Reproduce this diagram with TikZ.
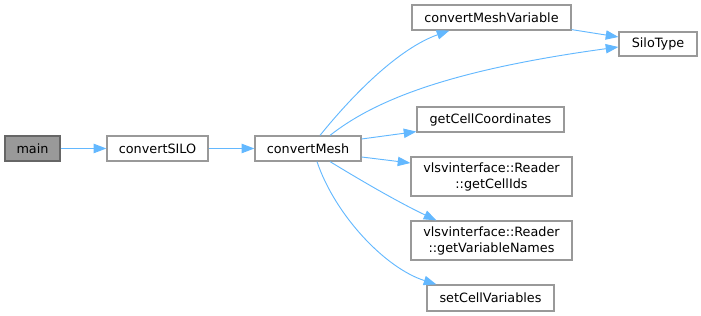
\documentclass[tikz,border=0pt]{standalone}
\usepackage{fontspec}
\setmainfont{DejaVu Sans}
\usetikzlibrary{arrows.meta,calc}
\definecolor{edgecol}{HTML}{63B8FF}
\definecolor{nodeborder}{HTML}{999999}
\definecolor{mainfill}{HTML}{999999}
\definecolor{mainborder}{HTML}{666666}
\tikzset{
  fn/.style={draw=nodeborder, line width=0.9pt, fill=white, inner sep=0pt,
    font=\fontsize{9.6pt}{12pt}\selectfont, align=center, anchor=center},
  mainfn/.style={fn, fill=mainfill, draw=mainborder},
  call/.style={draw=edgecol, line width=0.7pt, -{Triangle[length=9.5pt,width=7pt]}}
}
\begin{document}
\begin{tikzpicture}[x=0.75pt,y=-0.75pt]
\useasboundingbox (0,0) rectangle (701,316);
\node[mainfn, minimum width=41.25pt, minimum height=18.75pt] (main) at (32.5,148.5) {main};
\node[fn, minimum width=75.75pt, minimum height=18.75pt] (silo) at (157.5,148.5) {convertSILO};
\node[fn, minimum width=79.5pt, minimum height=18.75pt] (cm) at (308,148.5) {convertMesh};
\node[fn, minimum width=119.25pt, minimum height=18.75pt] (cmv) at (491.5,17.5) {convertMeshVariable};
\node[fn, minimum width=58.5pt, minimum height=18pt] (st) at (658,44) {SiloType};
\node[fn, minimum width=110.25pt, minimum height=18.75pt] (gcc) at (490.5,119.5) {getCellCoordinates};
\node[fn, minimum width=120.75pt, minimum height=29.25pt] (gci) at (491.5,176.5) {vlsvinterface::Reader\\::getCellIds};
\node[fn, minimum width=120.75pt, minimum height=29.25pt] (gvn) at (491.5,240.5) {vlsvinterface::Reader\\::getVariableNames};
\node[fn, minimum width=95.25pt, minimum height=19.5pt] (scv) at (490.5,298) {setCellVariables};

\draw[call] (main.east) -- (silo.west);
\draw[call] (silo.east) -- (cm.west);
\draw[call] ($(cm.north)+(12,0)$) .. controls (355,92) and (400,48) .. ($(cmv.south west)+(38,0)$);
\draw[call] ($(cm.north)+(22,0)$) .. controls (375,100) and (450,70) .. ($(st.west)+(0,3)$);
\draw[call] ($(cmv.south east)+(0,-1)$) -- ($(st.west)+(0,-7)$);
\draw[call] ($(cm.east)+(0,-9.5)$) -- ($(gcc.south west)+(0,-1)$);
\draw[call] ($(cm.east)+(0,8.5)$) -- ($(gci.west)+(0,-13.5)$);
\draw[call] ($(cm.south)+(22,0)$) .. controls (365,183) and (400,203) .. ($(gvn.north west)+(26,0)$);
\draw[call] ($(cm.south)+(9,0)$) .. controls (335,215) and (385,268) .. ($(scv.north west)+(10,0)$);
\end{tikzpicture}
\end{document}
